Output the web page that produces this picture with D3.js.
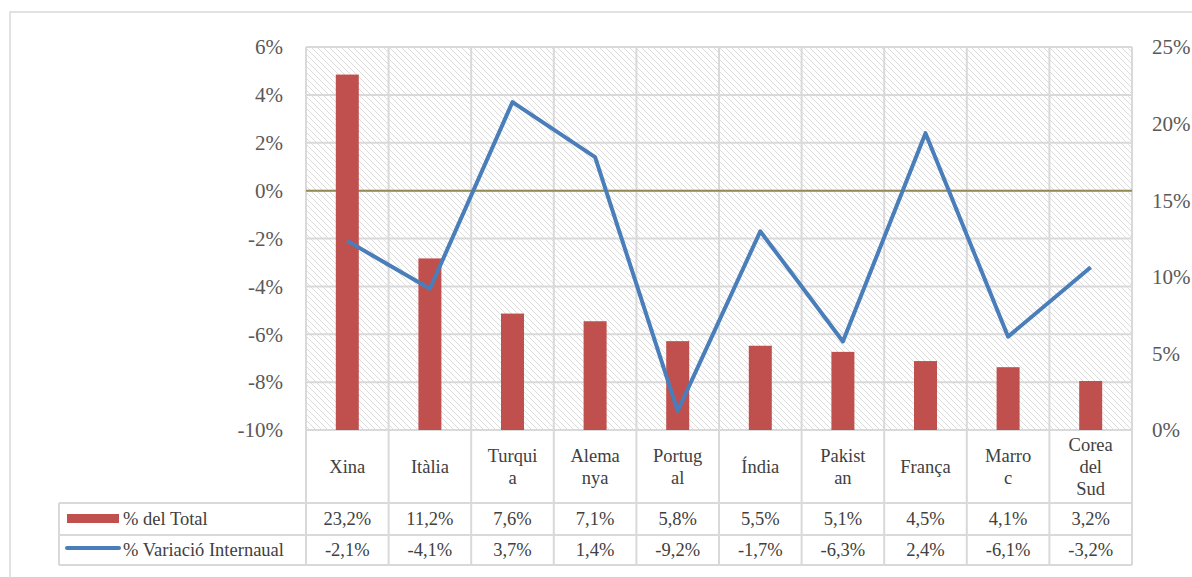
<!DOCTYPE html>
<html>
<head>
<meta charset="utf-8">
<script src="https://cdn.jsdelivr.net/npm/d3@7"></script>
<style>
  body { margin: 0; background: #fff; }
  svg text { font-family: "Liberation Serif", "DejaVu Serif", serif; fill: #404040; }
</style>
</head>
<body>
<div id="chart"></div>
<script>
// ============================================================================
// DATA
// ============================================================================

const countries   = ["Xina", "Itàlia", "Turquia", "Alemanya", "Portugal", "Índia", "Pakistan", "França", "Marroc", "Corea del Sud"];
const countryRows = [["Xina"], ["Itàlia"], ["Turqui", "a"], ["Alema", "nya"], ["Portug", "al"], ["Índia"], ["Pakist", "an"], ["França"], ["Marro", "c"], ["Corea", "del", "Sud"]];
const shareTotal  = [23.2, 11.2, 7.6, 7.1, 5.8, 5.5, 5.1, 4.5, 4.1, 3.2];
const variation   = [-2.1, -4.1, 3.7, 1.4, -9.2, -1.7, -6.3, 2.4, -6.1, -3.2];
const leftTicks   = [-10, -8, -6, -4, -2, 0, 2, 4, 6];
const rightTicks  = [0, 5, 10, 15, 20, 25];
const seriesNames = ["% del Total", "% Variació Internaual"];

const fmt = v => v.toFixed(1).replace(".", ",") + "%";

// ============================================================================
// SETUP
// ============================================================================

const W = 1192, H = 577;
const plot = { left: 306, right: 1132, top: 47, bottom: 430 };
const tableLeft = 59;
const rowY = [503, 535, 565];

const svg = d3.select("#chart").append("svg")
    .attr("width", W).attr("height", H);

// outer chart frame (runs off the canvas on right/bottom)
svg.append("rect")
    .attr("x", 10).attr("y", 12)
    .attr("width", 1200).attr("height", 600)
    .attr("fill", "none")
    .attr("stroke", "#d9d9d9")
    .attr("stroke-width", 1.5);

const x = d3.scaleBand()
    .domain(countries)
    .range([plot.left, plot.right])
    .padding(0);

const yL = d3.scaleLinear().domain([-10, 6]).range([plot.bottom, plot.top]);
const yR = d3.scaleLinear().domain([0, 25]).range([plot.bottom, plot.top]);

// hatch pattern for plot background
const defs = svg.append("defs");
const pat = defs.append("pattern")
    .attr("id", "hatch")
    .attr("patternUnits", "userSpaceOnUse")
    .attr("width", 6).attr("height", 6);
pat.append("path")
    .attr("d", "M-1,-1 L7,7 M-1,5 L1,7 M5,-1 L7,1")
    .attr("stroke", "#dcdcdc")
    .attr("stroke-width", 1);

svg.append("rect")
    .attr("x", plot.left).attr("y", plot.top)
    .attr("width", plot.right - plot.left)
    .attr("height", plot.bottom - plot.top)
    .attr("fill", "url(#hatch)");

// ============================================================================
// GRID
// ============================================================================

const grid = svg.append("g").attr("stroke", "#d9d9d9").attr("stroke-width", 2);

grid.selectAll("line.h")
    .data(leftTicks)
    .join("line")
    .attr("x1", plot.left).attr("x2", plot.right)
    .attr("y1", d => yL(d)).attr("y2", d => yL(d));

const bounds = countries.map(c => x(c)).concat([plot.right]);

// vertical lines go through plot and the category row
grid.selectAll("line.v")
    .data(bounds)
    .join("line")
    .attr("x1", d => d).attr("x2", d => d)
    .attr("y1", plot.top).attr("y2", rowY[2]);

// table frame
grid.append("line")
    .attr("x1", tableLeft).attr("x2", tableLeft)
    .attr("y1", rowY[0]).attr("y2", rowY[2]);

grid.selectAll("line.row")
    .data(rowY)
    .join("line")
    .attr("x1", tableLeft).attr("x2", plot.right)
    .attr("y1", d => d).attr("y2", d => d);

// ============================================================================
// AXES
// ============================================================================

svg.append("g")
    .selectAll("text")
    .data(leftTicks)
    .join("text")
    .attr("x", 283)
    .attr("y", d => yL(d))
    .attr("dy", "0.35em")
    .attr("text-anchor", "end")
    .style("font-size", "21px")
    .style("fill", "#595959")
    .text(d => d + "%");

svg.append("g")
    .selectAll("text")
    .data(rightTicks)
    .join("text")
    .attr("x", 1152)
    .attr("y", d => yR(d))
    .attr("dy", "0.35em")
    .attr("text-anchor", "start")
    .style("font-size", "21px")
    .style("fill", "#595959")
    .text(d => d + "%");

// zero line
svg.append("line")
    .attr("x1", plot.left).attr("x2", plot.right)
    .attr("y1", yL(0)).attr("y2", yL(0))
    .attr("stroke", "#948a54")
    .attr("stroke-width", 2);

// ============================================================================
// MARKS
// ============================================================================

const barW = 23;

svg.append("g")
    .selectAll("rect")
    .data(countries)
    .join("rect")
    .attr("x", (d) => x(d) + x.bandwidth() / 2 - barW / 2)
    .attr("width", barW)
    .attr("y", (d, i) => yR(shareTotal[i]))
    .attr("height", (d, i) => yR(0) - yR(shareTotal[i]))
    .attr("fill", "#c0504d");

const line = d3.line()
    .x((d, i) => x(countries[i]) + x.bandwidth() / 2)
    .y(d => yL(d));

svg.append("path")
    .datum(variation)
    .attr("d", line)
    .attr("fill", "none")
    .attr("stroke", "#4a7ebb")
    .attr("stroke-width", 4)
    .attr("stroke-linejoin", "round");

// ============================================================================
// DATA TABLE
// ============================================================================

const lh = 22;
svg.append("g")
    .selectAll("text")
    .data(countryRows)
    .join("text")
    .attr("text-anchor", "middle")
    .style("font-size", "18.5px")
    .each(function (lines, i) {
        const cx = x(countries[i]) + x.bandwidth() / 2;
        const cy = (plot.bottom + rowY[0]) / 2;
        d3.select(this).selectAll("tspan")
            .data(lines)
            .join("tspan")
            .attr("x", cx)
            .attr("y", (l, j) => cy + (j - (lines.length - 1) / 2) * lh)
            .attr("dy", "0.35em")
            .text(l => l);
    });

const rows = [shareTotal, variation];
rows.forEach((vals, r) => {
    const cy = (rowY[r] + rowY[r + 1]) / 2;
    svg.append("g")
        .selectAll("text")
        .data(vals)
        .join("text")
        .attr("x", (d, i) => x(countries[i]) + x.bandwidth() / 2)
        .attr("y", cy)
        .attr("dy", "0.35em")
        .attr("text-anchor", "middle")
        .style("font-size", "18.5px")
        .text(d => fmt(d));

    svg.append("text")
        .attr("x", 123)
        .attr("y", cy)
        .attr("dy", "0.35em")
        .style("font-size", "18.5px")
        .text(seriesNames[r]);
});

// legend keys
svg.append("rect")
    .attr("x", 67).attr("y", 514)
    .attr("width", 52).attr("height", 9)
    .attr("fill", "#c0504d");

svg.append("line")
    .attr("x1", 67).attr("x2", 119)
    .attr("y1", 548).attr("y2", 548)
    .attr("stroke", "#4a7ebb")
    .attr("stroke-width", 4)
    .attr("stroke-linecap", "round");
</script>
</body>
</html>
